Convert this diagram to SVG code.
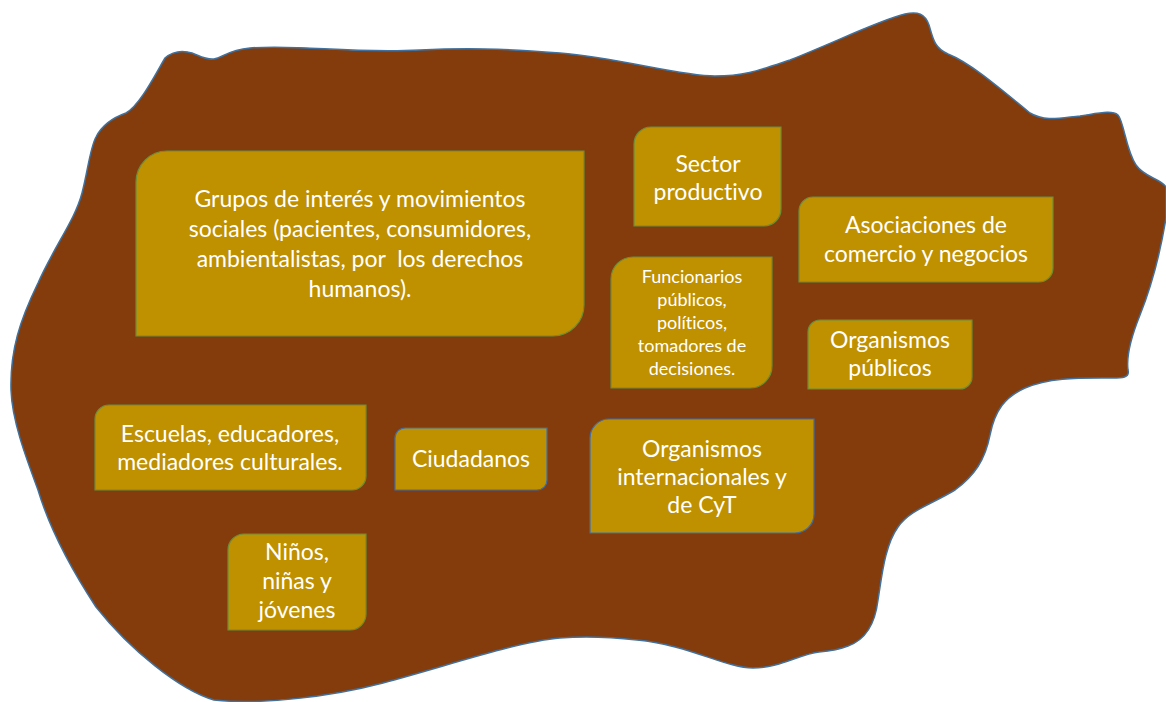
<svg xmlns="http://www.w3.org/2000/svg" width="1166" height="702" viewBox="0 0 1166 702">
<style>
.box{fill:#BF9000;stroke:#6B8E3A;stroke-width:1.2}
.box.blue{stroke:#3F6FA8}
.t{font-family:Lato,"Open Sans","Liberation Sans",sans-serif;font-size:23px;fill:#FFFFFF;text-anchor:middle;white-space:pre;font-variant-ligatures:none}
.s{font-size:18px}
</style>
<rect width="1166" height="702" fill="#FFFFFF"/>
<path id="blob" fill="#843C0C" stroke="#41719C" stroke-width="1.5" d="M165,58 C172,52 182,50 192,53 C200,56 206,60 214,59 C222,58 228,50 250,48 C300,44 350,54 420,50 C480,47 520,50 560,53 C620,58 680,76 715,76 C745,76 760,70 790,60 C840,40 880,20 905,14 C918,11 925,14 929,25 C933,38 934,48 948,54 C968,62 990,80 1030,113 C1045,122 1060,118 1080,116 C1100,113 1112,110 1118,115 C1124,122 1126,150 1136,165 C1145,178 1160,178 1166,187 L1166,218 C1160,255 1150,290 1140,315 C1132,335 1126,355 1128,370 C1130,378 1122,378 1112,378 C1080,378 1050,377 1025,388 C1005,397 995,410 990,435 C985,460 975,475 955,490 C930,505 910,510 898,527 C885,545 882,575 878,600 C875,625 865,640 848,646 C838,650 830,651 819,652 C800,654 780,668 753,668 C725,668 690,645 637,640 C610,637 585,636 560,638 C520,641 450,665 383,683 C330,697 260,705 214,700 C180,690 130,650 96,607 C75,575 50,530 38,490 C25,455 12,420 11,390 C10,350 20,320 38,283 C55,245 75,220 82,193 C88,170 90,148 96,137 C102,125 112,118 126,113 C140,105 155,75 165,58 Z"/>
<g id="n-grupos">
<path class="box" d="M167,151 H584 V305 A31,31 0 0 1 553,336 H136 V182 A31,31 0 0 1 167,151 Z"/>
<text class="t" x="360" y="207">Grupos de interés y movimientos</text>
<text class="t" x="360" y="237">sociales (pacientes, consumidores,</text>
<text class="t" x="360" y="267">ambientalistas, por  los derechos</text>
<text class="t" x="360" y="297">humanos).</text>
</g>
<g id="n-sector">
<path class="box" d="M651,127 H781 V209 A17,17 0 0 1 764,226 H634 V144 A17,17 0 0 1 651,127 Z"/>
<text class="t" x="708" y="172">Sector</text>
<text class="t" x="708" y="200">productivo</text>
</g>
<g id="n-asociaciones">
<path class="box" d="M813,197 H1053 V268 A14,14 0 0 1 1039,282 H799 V211 A14,14 0 0 1 813,197 Z"/>
<text class="t" x="926" y="233">Asociaciones de</text>
<text class="t" x="926" y="262">comercio y negocios</text>
</g>
<g id="n-funcionarios">
<path class="box" d="M633,257 H772 V366 A22,22 0 0 1 750,388 H611 V279 A22,22 0 0 1 633,257 Z"/>
<text class="t s" x="692" y="283">Funcionarios</text>
<text class="t s" x="692" y="306">públicos,</text>
<text class="t s" x="692" y="329">políticos,</text>
<text class="t s" x="692" y="352">tomadores de</text>
<text class="t s" x="692" y="375">decisiones.</text>
</g>
<g id="n-organismos-publicos">
<path class="box" d="M820,320 H972 V377 A12,12 0 0 1 960,389 H808 V332 A12,12 0 0 1 820,320 Z"/>
<text class="t" x="890" y="348">Organismos</text>
<text class="t" x="890" y="376">públicos</text>
</g>
<g id="n-escuelas">
<path class="box" d="M109,405 H366 V476 A14,14 0 0 1 352,490 H95 V419 A14,14 0 0 1 109,405 Z"/>
<text class="t" x="230" y="442">Escuelas, educadores,</text>
<text class="t" x="230" y="470">mediadores culturales.</text>
</g>
<g id="n-ciudadanos">
<path class="box blue" d="M405,428 H547 V480 A10,10 0 0 1 537,490 H395 V438 A10,10 0 0 1 405,428 Z"/>
<text class="t" x="471" y="467">Ciudadanos</text>
</g>
<g id="n-organismos-internacionales">
<path class="box blue" d="M609,419 H814 V514 A19,19 0 0 1 795,533 H590 V438 A19,19 0 0 1 609,419 Z"/>
<text class="t" x="702" y="457">Organismos</text>
<text class="t" x="702" y="485">internacionales y</text>
<text class="t" x="702" y="513">de CyT</text>
</g>
<g id="n-ninos">
<path class="box" d="M244,534 H366 V614 A16,16 0 0 1 350,630 H228 V550 A16,16 0 0 1 244,534 Z"/>
<text class="t" x="297" y="560">Niños,</text>
<text class="t" x="297" y="589">niñas y</text>
<text class="t" x="297" y="618">jóvenes</text>
</g>
<g id="connectors"></g>
</svg>
